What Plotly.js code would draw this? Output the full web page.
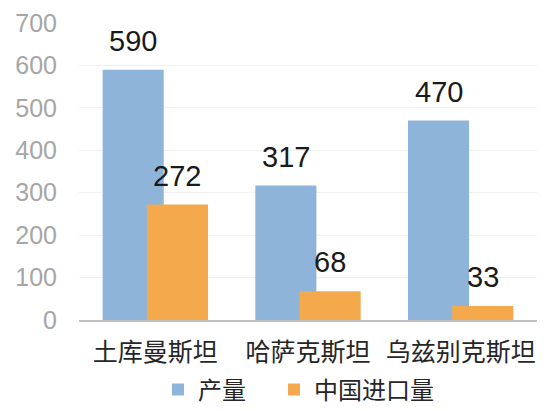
<!DOCTYPE html>
<html>
<head>
<meta charset="utf-8">
<script src="https://cdn.plot.ly/plotly-3.0.1.min.js"></script>
<style>html,body{margin:0;padding:0;background:#fff;}</style>
</head>
<body>
<div id="chart" style="width:552px;height:411px;"></div>
<script>
const categories = ['土库曼斯坦', '哈萨克斯坦', '乌兹别克斯坦'];
const production = [590, 317, 470];
const chinaImports = [272, 68, 33];
const seriesNames = ['产量', '中国进口量'];
const yTicks = [0, 100, 200, 300, 400, 500, 600, 700];

const BAR_W = 0.4;
const OFF_A = -0.345;
const OFF_B = -0.055;
const cjk = '"Noto Sans CJK SC", "Noto Sans", sans-serif';
const num = '"Liberation Sans", Arial, sans-serif';

const traces = [
  {type: 'bar', name: seriesNames[0], x: categories, y: production,
   width: BAR_W, offset: OFF_A, marker: {color: '#8fb4d9'}, hoverinfo: 'none', legendwidth: 71},
  {type: 'bar', name: seriesNames[1], x: categories, y: chinaImports,
   width: BAR_W, offset: OFF_B, marker: {color: '#f4aa4c'}, hoverinfo: 'none'}
];

const annotations = [];
[[production, OFF_A], [chinaImports, OFF_B]].forEach(([vals, off]) => {
  vals.forEach((v, i) => {
    annotations.push({
      x: i + off + BAR_W / 2, y: v, xref: 'x', yref: 'y',
      text: String(v), showarrow: false, yanchor: 'bottom', yshift: 11,
      font: {family: num, size: 29, color: '#1a1a1a'}
    });
  });
});

const layout = {
  width: 552, height: 411,
  margin: {l: 79, r: 15, t: 23, b: 91, autoexpand: false},
  paper_bgcolor: '#ffffff', plot_bgcolor: '#ffffff',
  barmode: 'overlay',
  showlegend: true,
  legend: {orientation: 'h', x: 0.1725, xanchor: 'left', y: -0.2357, yanchor: 'middle',
           font: {family: cjk, size: 24, color: '#262626'}, itemwidth: 30, traceorder: 'normal'},
  xaxis: {type: 'category', showline: true, linecolor: '#c0c0c0', linewidth: 1.5,
          ticks: '', tickfont: {family: cjk, size: 25, color: '#262626'},
          ticklabelstandoff: 9, range: [-0.5, 2.5], fixedrange: true},
  yaxis: {range: [0, 700], tickvals: yTicks, ticktext: yTicks.map(String),
          showgrid: true, gridcolor: '#f1f1f1', gridwidth: 1, zeroline: false,
          ticks: '', ticklabelstandoff: 21,
          tickfont: {family: num, size: 25, color: '#a6a6a6'}, fixedrange: true},
  annotations: annotations,
  font: {family: cjk}
};

Plotly.newPlot('chart', traces, layout, {displayModeBar: false, staticPlot: true});
</script>
</body>
</html>
